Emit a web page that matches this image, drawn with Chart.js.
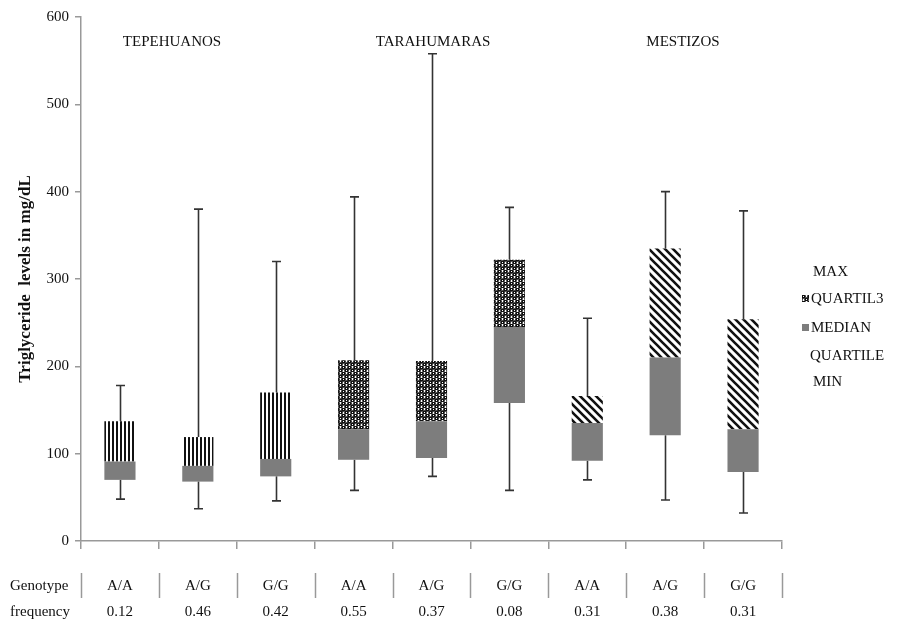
<!DOCTYPE html>
<html>
<head>
<meta charset="utf-8">
<script src="https://cdn.jsdelivr.net/npm/chart.js@4.4.1/dist/chart.umd.min.js"></script>
<style>
  body { margin: 0; background: #fff; }
  #wrap { position: relative; width: 901px; height: 622px; font-family: "Liberation Serif", "DejaVu Serif", serif; color: #111; }
  canvas { position: absolute; left: 0; top: 0; }
  .lbl { position: absolute; font-size: 15px; white-space: nowrap; line-height: 1; }
  .grp { position: absolute; top: 33px; font-size: 15px; transform: translateX(-50%); white-space: nowrap; }
  .key { display: inline-block; width: 7px; height: 7px; margin-right: 2px; vertical-align: 1px; }
</style>
</head>
<body>
<div id="wrap">
  <canvas id="chart" width="901" height="622"></canvas>
  <div class="grp" style="left:172px">TEPEHUANOS</div>
  <div class="grp" style="left:433px">TARAHUMARAS</div>
  <div class="grp" style="left:683px">MESTIZOS</div>

  <div class="lbl" style="left:10px;top:578px">Genotype</div>
  <div class="lbl" style="left:10px;top:604px">frequency</div>

  <div class="lbl" style="left:813px;top:264px">MAX</div>
  <div class="lbl" style="left:802px;top:291px"><span class="key" id="keyQ3"></span>QUARTIL3</div>
  <div class="lbl" style="left:802px;top:320px"><span class="key" style="background:#7d7d7d"></span>MEDIAN</div>
  <div class="lbl" style="left:810px;top:348px">QUARTILE</div>
  <div class="lbl" style="left:813px;top:374px">MIN</div>
</div>

<script>
// genotype per box, with frequency shown under it
const genotypes = ["A/A", "A/G", "G/G", "A/A", "A/G", "G/G", "A/A", "A/G", "G/G"];
const frequencies = ["0.12", "0.46", "0.42", "0.55", "0.37", "0.08", "0.31", "0.38", "0.31"];
const groupOf = [0, 0, 0, 1, 1, 1, 2, 2, 2]; // TEPEHUANOS, TARAHUMARAS, MESTIZOS

// triglyceride levels (mg/dL)
const minVals    = [48, 37, 46, 58, 74, 58, 70, 47, 32];
const q1Vals     = [70, 68, 74, 93, 95, 158, 92, 121, 79];
const medianVals = [91, 86, 94, 128, 137, 245, 135, 210, 128];
const q3Vals     = [137, 119, 170, 207, 206, 322, 166, 335, 254];
const maxVals    = [178, 380, 320, 394, 558, 382, 255, 400, 378];

const yTicks = [0, 100, 200, 300, 400, 500, 600];

function makePattern(kind) {
    const c = document.createElement("canvas");
    const g = c.getContext("2d");
    if (kind === "vertical") {
        c.width = 4; c.height = 4;
        g.fillStyle = "#fff"; g.fillRect(0, 0, 4, 4);
        g.fillStyle = "#111"; g.fillRect(0, 0, 2, 4);
    } else if (kind === "dots") {
        c.width = 6; c.height = 6;
        g.fillStyle = "#fff"; g.fillRect(0, 0, 6, 6);
        g.fillStyle = "#111";
        [[1.5, 1.5], [4.5, 4.5], [-1.5, 4.5], [7.5, 1.5]].forEach(p => {
            g.beginPath(); g.arc(p[0], p[1], 2.3, 0, Math.PI * 2); g.fill();
        });
        g.fillStyle = "#fff";
        g.fillRect(1, 1, 1, 1); g.fillRect(4, 4, 1, 1);
    } else {
        c.width = 8; c.height = 8;
        g.fillStyle = "#fff"; g.fillRect(0, 0, 8, 8);
        g.strokeStyle = "#111"; g.lineWidth = 2.6;
        g.beginPath();
        g.moveTo(-2, -2); g.lineTo(10, 10);
        g.moveTo(-2, 6); g.lineTo(2, 10);
        g.moveTo(6, -2); g.lineTo(10, 2);
        g.stroke();
    }
    return c;
}

const ctx = document.getElementById("chart").getContext("2d");
const patterns = ["vertical", "dots", "diagonal"].map(k => ctx.createPattern(makePattern(k), "repeat"));
document.getElementById("keyQ3").style.background = "url(" + makePattern("dots").toDataURL() + ")";

const labels = genotypes.map((g, i) => [g, frequencies[i]]);

const whiskers = {
    id: "whiskers",
    beforeDatasetsDraw(chart) {
        const x = chart.scales.x, y = chart.scales.y, c = chart.ctx;
        c.save();
        c.strokeStyle = "#333";
        c.lineWidth = 1.6;
        for (let i = 0; i < genotypes.length; i++) {
            const cx = Math.round(x.getPixelForValue(i)) + 0.5;
            c.beginPath();
            c.moveTo(cx, y.getPixelForValue(maxVals[i]));
            c.lineTo(cx, y.getPixelForValue(q3Vals[i]));
            c.moveTo(cx, y.getPixelForValue(q1Vals[i]));
            c.lineTo(cx, y.getPixelForValue(minVals[i]));
            [maxVals[i], minVals[i]].forEach(v => {
                const py = y.getPixelForValue(v);
                c.moveTo(cx - 4.5, py); c.lineTo(cx + 4.5, py);
            });
            c.stroke();
        }
        c.restore();
    },
    afterDraw(chart) {
        // separators of the genotype / frequency table
        const x = chart.scales.x, c = chart.ctx;
        const step = x.width / genotypes.length;
        const top = chart.chartArea.bottom + 32;
        c.save();
        c.strokeStyle = "#999";
        c.lineWidth = 1.5;
        for (let i = 0; i <= genotypes.length; i++) {
            const bx = Math.round(x.left + i * step) + 0.5;
            c.beginPath();
            c.moveTo(bx, top);
            c.lineTo(bx, top + 25);
            c.stroke();
        }
        c.restore();
    }
};

new Chart(ctx, {
    type: "bar",
    data: {
        labels: labels,
        datasets: [
            {
                label: "MEDIAN",
                data: q1Vals.map((v, i) => [v, medianVals[i]]),
                backgroundColor: "#7d7d7d",
                grouped: false,
                barPercentage: 0.4,
                categoryPercentage: 1
            },
            {
                label: "QUARTIL3",
                data: medianVals.map((v, i) => [v, q3Vals[i]]),
                backgroundColor: groupOf.map(g => patterns[g]),
                grouped: false,
                barPercentage: 0.4,
                categoryPercentage: 1
            }
        ]
    },
    options: {
        responsive: false,
        animation: false,
        layout: { padding: { top: 17, right: 119, bottom: 0, left: 0 } },
        plugins: { legend: { display: false }, tooltip: { enabled: false } },
        scales: {
            x: {
                offset: true,
                grid: { offset: true, drawOnChartArea: false, tickLength: 8, color: "#999", lineWidth: 1.5 },
                border: { color: "#999", width: 1.5 },
                ticks: {
                    color: "#111",
                    padding: 24,
                    maxRotation: 0,
                    font: { family: "'Liberation Serif', serif", size: 15, lineHeight: 1.75 }
                },
                afterFit: s => { s.height = 81; }
            },
            y: {
                min: 0,
                max: 600,
                afterBuildTicks: s => { s.ticks = yTicks.map(v => ({ value: v })); },
                grid: { drawOnChartArea: false, tickLength: 6, color: "#999", lineWidth: 1.5 },
                border: { color: "#999", width: 1.5 },
                ticks: {
                    color: "#111",
                    padding: 6,
                    font: { family: "'Liberation Serif', serif", size: 15 }
                },
                title: {
                    display: true,
                    text: "Triglyceride  levels in mg/dL",
                    color: "#111",
                    padding: { top: 15, bottom: 0 },
                    font: { family: "'Liberation Serif', serif", size: 17, weight: "bold" }
                },
                afterFit: s => { s.width = 81; }
            }
        }
    },
    plugins: [whiskers]
});
</script>
</body>
</html>
